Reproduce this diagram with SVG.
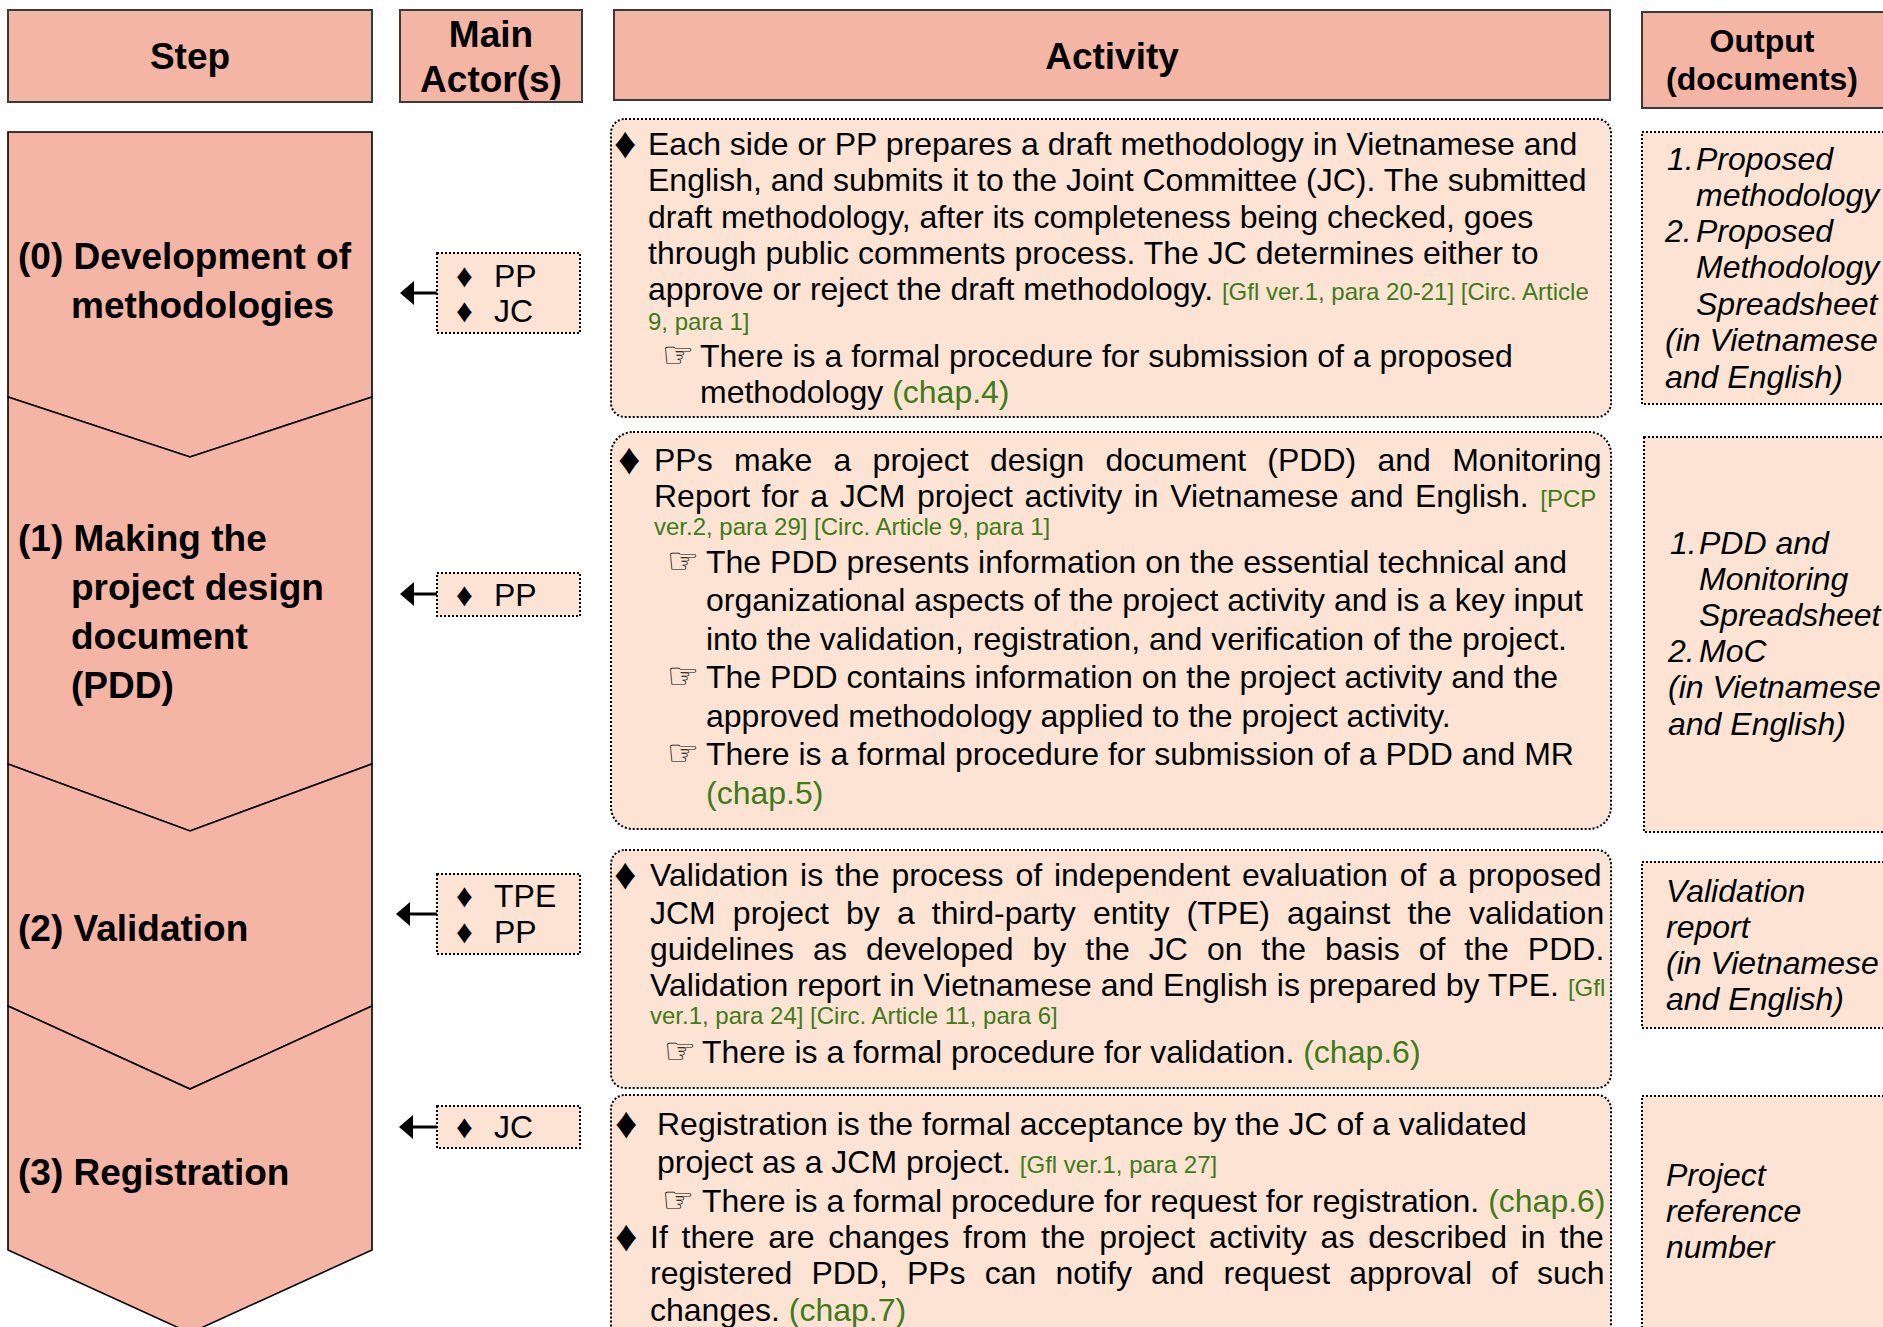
<svg xmlns="http://www.w3.org/2000/svg" width="1883" height="1327" viewBox="0 0 1883 1327">
<defs>
<style>
.hdr{fill:#F4B5A5;stroke:#3a3a3a;stroke-width:2}
.step{fill:#F4B5A5;stroke:#000;stroke-width:1.6;stroke-linejoin:miter}
.box{fill:#FDE3D4;stroke:#000;stroke-width:2;stroke-dasharray:2 2}
.t{font-family:"Liberation Sans",Arial,"DejaVu Sans",sans-serif;font-size:32px;fill:#000}
.hb{font-family:"Liberation Sans",Arial,sans-serif;font-size:37px;font-weight:bold;fill:#000}
.it{font-style:italic}
.g{fill:#3F7B16}
.s{font-size:24px}
.dm{font-size:44px}
.da{font-size:33px}
.hand{font-family:"DejaVu Sans",sans-serif;font-size:36px}
.conn{stroke:#000;stroke-width:3;fill:none}
</style>
<marker id="ah" markerUnits="userSpaceOnUse" markerWidth="14" markerHeight="24" refX="4" refY="12" orient="auto">
<path d="M0,0 L14,12 L0,24 z" fill="#000"/>
</marker>
</defs>
<rect width="1883" height="1327" fill="#fff"/>

<!-- Headers -->
<g id="hdr-step"><rect class="hdr" x="8" y="10" width="364" height="92"/><text class="hb" x="190" y="69" text-anchor="middle">Step</text></g>
<g id="hdr-actor"><rect class="hdr" x="400" y="10" width="182" height="92"/><text class="hb" x="491" y="47" text-anchor="middle">Main</text><text class="hb" x="491" y="92" text-anchor="middle">Actor(s)</text></g>
<g id="hdr-activity"><rect class="hdr" x="614" y="10" width="996" height="90"/><text class="hb" x="1112" y="69" text-anchor="middle">Activity</text></g>
<g id="hdr-output"><rect class="hdr" x="1642" y="12" width="260" height="96"/><text class="hb" x="1762" y="52" text-anchor="middle" style="font-size:32px">Output</text><text class="hb" x="1762" y="90" text-anchor="middle" style="font-size:32px">(documents)</text></g>

<!-- Steps -->
<g id="step0"><polygon class="step" points="8,132 372,132 372,397 190,457 8,397"/>
<text class="hb" x="18" y="269">(0) Development of</text><text class="hb" x="71" y="318">methodologies</text></g>
<g id="step1"><polygon class="step" points="8,397 190,457 372,397 372,764 190,831 8,764"/>
<text class="hb" x="18" y="551">(1) Making the</text><text class="hb" x="71" y="600">project design</text><text class="hb" x="71" y="649">document</text><text class="hb" x="71" y="698">(PDD)</text></g>
<g id="step2"><polygon class="step" points="8,764 190,831 372,764 372,1006 190,1089 8,1006"/>
<text class="hb" x="18" y="941">(2) Validation</text></g>
<g id="step3"><polygon class="step" points="8,1006 190,1089 372,1006 372,1250 190,1333 8,1250"/>
<text class="hb" x="18" y="1185">(3) Registration</text></g>

<!-- Actors -->
<g id="actor0"><rect class="box" x="437" y="253" width="143" height="80"/>
<text class="t"><tspan class="da" x="456" y="287">♦</tspan><tspan x="494" y="287">PP</tspan></text>
<text class="t"><tspan class="da" x="456" y="322">♦</tspan><tspan x="494" y="322">JC</tspan></text></g>
<g id="actor1"><rect class="box" x="437" y="573" width="143" height="43"/>
<text class="t"><tspan class="da" x="456" y="606">♦</tspan><tspan x="494" y="606">PP</tspan></text></g>
<g id="actor2"><rect class="box" x="437" y="874" width="143" height="80"/>
<text class="t"><tspan class="da" x="456" y="907">♦</tspan><tspan x="494" y="907">TPE</tspan></text>
<text class="t"><tspan class="da" x="456" y="943">♦</tspan><tspan x="494" y="943">PP</tspan></text></g>
<g id="actor3"><rect class="box" x="437" y="1106" width="143" height="42"/>
<text class="t"><tspan class="da" x="456" y="1138">♦</tspan><tspan x="494" y="1138">JC</tspan></text></g>

<!-- Connectors -->
<g id="connectors">
<line class="conn" x1="437" y1="293" x2="410" y2="293" marker-end="url(#ah)"/>
<line class="conn" x1="437" y1="594" x2="410" y2="594" marker-end="url(#ah)"/>
<line class="conn" x1="437" y1="914" x2="406" y2="914" marker-end="url(#ah)"/>
<line class="conn" x1="437" y1="1127" x2="409" y2="1127" marker-end="url(#ah)"/>
</g>

<!-- Activities -->
<g id="activity0"><rect class="box" x="611" y="119" width="1000" height="298" rx="14"/>
<text class="t dm" x="614" y="158">♦</text>
<text class="t" x="648" y="155">Each side or PP prepares a draft methodology in Vietnamese and</text>
<text class="t" x="648" y="191">English, and submits it to the Joint Committee (JC). The submitted</text>
<text class="t" x="648" y="228">draft methodology, after its completeness being checked, goes</text>
<text class="t" x="648" y="264">through public comments process. The JC determines either to</text>
<text class="t" x="648" y="300">approve or reject the draft methodology. <tspan class="g s">[Gfl ver.1, para 20-21] [Circ. Article</tspan></text>
<text class="t g s" x="648" y="330">9, para 1]</text>
<text class="hand" x="662" y="367">☞</text>
<text class="t" x="700" y="367">There is a formal procedure for submission of a proposed</text>
<text class="t" x="700" y="403">methodology <tspan class="g">(chap.4)</tspan></text>
</g>

<g id="activity1"><rect class="box" x="611" y="432" width="1000" height="397" rx="22"/>
<text class="t dm" x="618" y="474">♦</text>
<text class="t" x="654" y="471" word-spacing="12.4">PPs make a project design document (PDD) and Monitoring</text>
<text class="t" x="654" y="507" word-spacing="2.6">Report for a JCM project activity in Vietnamese and English. <tspan class="g s">[PCP</tspan></text>
<text class="t g s" x="654" y="535">ver.2, para 29] [Circ. Article 9, para 1]</text>
<text class="hand" x="667" y="573">☞</text>
<text class="t" x="706" y="573">The PDD presents information on the essential technical and</text>
<text class="t" x="706" y="611">organizational aspects of the project activity and is a key input</text>
<text class="t" x="706" y="650">into the validation, registration, and verification of the project.</text>
<text class="hand" x="667" y="688">☞</text>
<text class="t" x="706" y="688">The PDD contains information on the project activity and the</text>
<text class="t" x="706" y="727">approved methodology applied to the project activity.</text>
<text class="hand" x="667" y="765">☞</text>
<text class="t" x="706" y="765">There is a formal procedure for submission of a PDD and MR</text>
<text class="t g" x="706" y="804">(chap.5)</text>
</g>

<g id="activity2"><rect class="box" x="611" y="850" width="1000" height="238" rx="14"/>
<text class="t dm" x="614" y="889">♦</text>
<text class="t" x="650" y="886" word-spacing="3">Validation is the process of independent evaluation of a proposed</text>
<text class="t" x="650" y="924" word-spacing="8.2">JCM project by a third-party entity (TPE) against the validation</text>
<text class="t" x="650" y="960" word-spacing="10.1">guidelines as developed by the JC on the basis of the PDD.</text>
<text class="t" x="650" y="996">Validation report in Vietnamese and English is prepared by TPE. <tspan class="g s">[Gfl</tspan></text>
<text class="t g s" x="650" y="1024">ver.1, para 24] [Circ. Article 11, para 6]</text>
<text class="hand" x="664" y="1063">☞</text>
<text class="t" x="702" y="1063">There is a formal procedure for validation. <tspan class="g">(chap.6)</tspan></text>
</g>

<g id="activity3"><rect class="box" x="611" y="1095" width="1000" height="250" rx="14"/>
<text class="t dm" x="615" y="1138">♦</text>
<text class="t" x="657" y="1135">Registration is the formal acceptance by the JC of a validated</text>
<text class="t" x="657" y="1173">project as a JCM project. <tspan class="g s">[Gfl ver.1, para 27]</tspan></text>
<text class="hand" x="662" y="1212">☞</text>
<text class="t" x="702" y="1212">There is a formal procedure for request for registration. <tspan class="g">(chap.6)</tspan></text>
<text class="t dm" x="615" y="1251">♦</text>
<text class="t" x="650" y="1248" word-spacing="4.9">If there are changes from the project activity as described in the</text>
<text class="t" x="650" y="1284" word-spacing="10.2">registered PDD, PPs can notify and request approval of such</text>
<text class="t" x="650" y="1321">changes. <tspan class="g">(chap.7)</tspan></text>
</g>

<!-- Outputs -->
<g id="output0"><rect class="box" x="1642" y="132" width="260" height="272"/>
<text class="t it"><tspan x="1667" y="170">1.</tspan><tspan x="1696" y="170">Proposed</tspan><tspan x="1696" y="206">methodology</tspan><tspan x="1665" y="242">2.</tspan><tspan x="1696" y="242">Proposed</tspan><tspan x="1696" y="278">Methodology</tspan><tspan x="1696" y="315">Spreadsheet</tspan><tspan x="1665" y="351">(in Vietnamese</tspan><tspan x="1665" y="388">and English)</tspan></text></g>
<g id="output1"><rect class="box" x="1644" y="437" width="260" height="395"/>
<text class="t it"><tspan x="1670" y="554">1.</tspan><tspan x="1699" y="554">PDD and</tspan><tspan x="1699" y="590">Monitoring</tspan><tspan x="1699" y="626">Spreadsheet</tspan><tspan x="1668" y="662">2.</tspan><tspan x="1699" y="662">MoC</tspan><tspan x="1668" y="698">(in Vietnamese</tspan><tspan x="1668" y="735">and English)</tspan></text></g>
<g id="output2"><rect class="box" x="1642" y="862" width="260" height="166"/>
<text class="t it"><tspan x="1666" y="902">Validation</tspan><tspan x="1666" y="938">report</tspan><tspan x="1666" y="974">(in Vietnamese</tspan><tspan x="1666" y="1010">and English)</tspan></text></g>
<g id="output3"><rect class="box" x="1642" y="1096" width="260" height="250"/>
<text class="t it"><tspan x="1666" y="1186">Project</tspan><tspan x="1666" y="1222">reference</tspan><tspan x="1666" y="1258">number</tspan></text></g>
</svg>
